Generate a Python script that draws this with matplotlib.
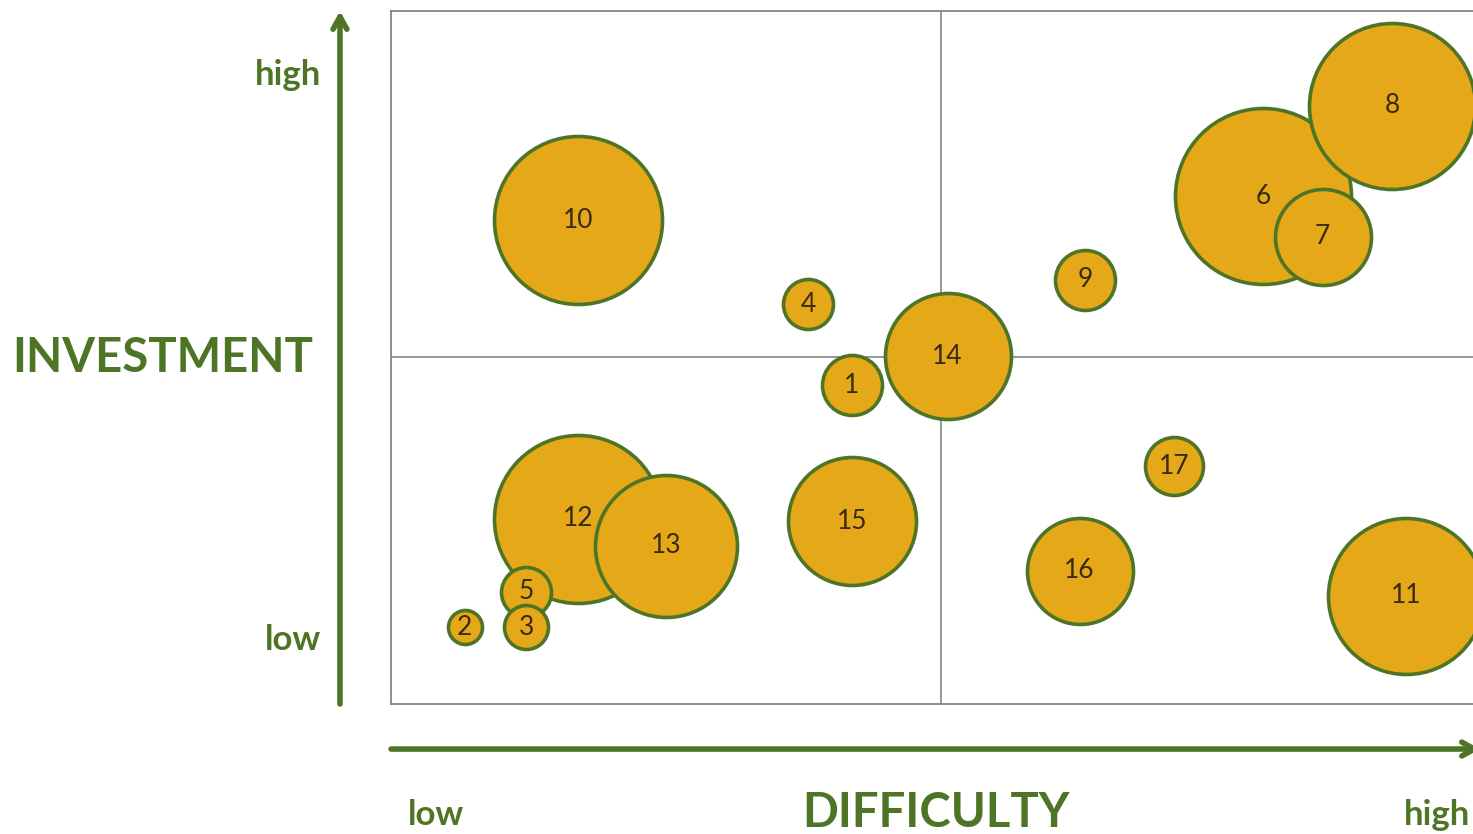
import numpy as np
import matplotlib
matplotlib.use("Agg")
import matplotlib.pyplot as plt

plt.rcParams['font.family'] = ['Lato', 'DejaVu Sans']

# project bubbles: difficulty (x), investment (y), bubble radius (px)
ids = [str(i) for i in range(1, 18)]
difficulty = [4.19, 0.67, 1.23, 3.79, 1.23, 7.93, 8.47, 9.10, 6.31,
              1.70, 9.23, 1.70, 2.50, 5.06, 4.19, 6.26, 7.12]
investment = [4.60, 1.11, 1.11, 5.77, 1.62, 7.33, 6.74, 8.63, 6.12,
              6.98, 1.56, 2.67, 2.28, 5.02, 2.64, 1.92, 3.43]
radius = [30, 17, 22, 25, 25, 88, 48, 83, 30,
          84, 78, 84, 71, 63, 64, 53, 29]

green = '#4E7526'
fill = '#E5A818'
dpi = 100

fig = plt.figure(figsize=(14.73, 8.34), dpi=dpi)
W, H = 1473, 834
# plot area in pixels: left 391, right 1491, top 11, bottom 704
ax = fig.add_axes([391 / W, (H - 704) / H, 1100 / W, 693 / H])
ax.set_xlim(0, 10)
ax.set_ylim(0, 10)
ax.set_xticks([])
ax.set_yticks([])
for s in ax.spines.values():
    s.set_color('#7a7a7a')
    s.set_linewidth(1.2)

# quadrant split
ax.axvline(5, color='#7a7a7a', lw=1.1, zorder=1)
ax.axhline(5, color='#7a7a7a', lw=1.1, zorder=1)

# big bubbles first so the small ones sit on top
order = np.argsort(radius, kind='stable')[::-1]
for k, i in enumerate(order):
    ax.scatter(difficulty[i], investment[i], s=(2 * radius[i] * 72 / dpi) ** 2,
               c=fill, edgecolors=green, linewidths=2.6, zorder=3 + k * 0.01)
for i in range(len(ids)):
    ax.text(difficulty[i], investment[i], ids[i], ha='center', va='center',
            fontsize=19, color='#3a2a10', zorder=5)

# axis arrows
arrow = dict(arrowstyle='->,head_length=0.9,head_width=0.5',
             lw=4, color=green, shrinkA=0, shrinkB=0)
ax.annotate('', xy=(-0.0464, 1.0), xytext=(-0.0464, 0.0),
            xycoords='axes fraction', textcoords='axes fraction',
            arrowprops=arrow, annotation_clip=False)
ax.annotate('', xy=(0.99, -0.065), xytext=(0.0, -0.065),
            xycoords='axes fraction', textcoords='axes fraction',
            arrowprops=arrow, annotation_clip=False)

# axis captions
def ftext(px, py, s, **kw):
    fig.text(px / W, 1 - py / H, s, color=green, fontweight='bold', **kw)

ftext(321, 75, 'high', ha='right', va='center', fontsize=25)
ftext(321, 640, 'low', ha='right', va='center', fontsize=25)
ftext(163, 358, 'INVESTMENT', ha='center', va='center', fontsize=34)
ftext(408, 815, 'low', ha='left', va='center', fontsize=25)
ftext(936, 813, 'DIFFICULTY', ha='center', va='center', fontsize=34)
ftext(1470, 815, 'high', ha='right', va='center', fontsize=25)

fig.savefig('out.png', dpi=dpi)
